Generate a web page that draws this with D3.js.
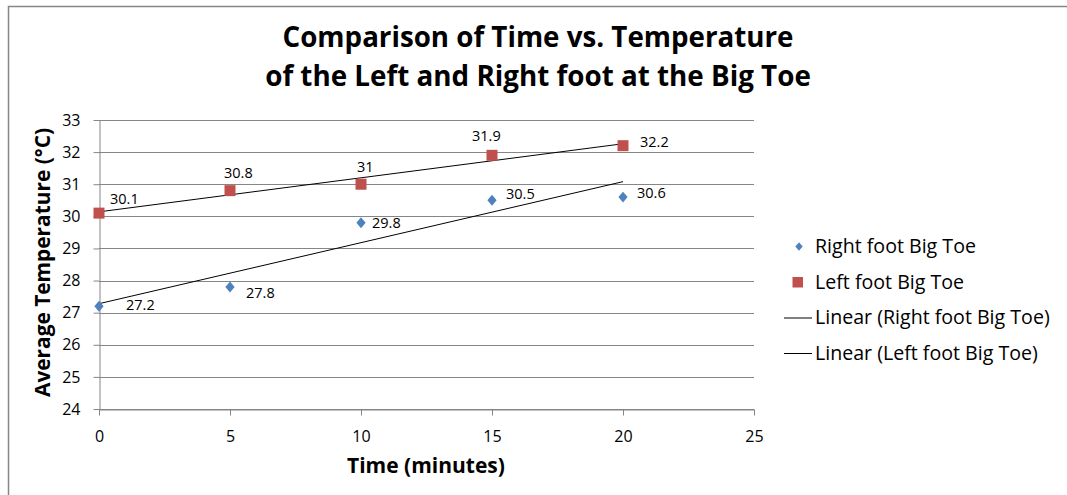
<!DOCTYPE html>
<html>
<head>
<meta charset="utf-8">
<script src="https://cdn.jsdelivr.net/npm/d3@7"></script>
<style>
  body { margin: 0; background: #fff; }
  text { font-family: "Open Sans", Lato, sans-serif; fill: #000; }
</style>
</head>
<body>
<div id="chart"></div>
<script>
// data
var times = [0, 5, 10, 15, 20];
var rightToe = [27.2, 27.8, 29.8, 30.5, 30.6];
var leftToe = [30.1, 30.8, 31, 31.9, 32.2];
var xTicks = [0, 5, 10, 15, 20, 25];
var yTicks = [24, 25, 26, 27, 28, 29, 30, 31, 32, 33];
var titleLines = ["Comparison of Time vs. Temperature", "of the Left and Right foot at the Big Toe"];
var legendItems = ["Right foot Big Toe", "Left foot Big Toe", "Linear (Right foot Big Toe)", "Linear (Left foot Big Toe)"];

// where the data labels were dragged to (px from the marker, text start / middle)
var rightLabelOff = [[27, -1], [16, 6], [11, 0], [14, -6], [14, -4]];
var leftLabelOff = [[11, -14], [-6, -18], [-4, -17], [-20, -19], [17, -4]];

var W = 1067, H = 495;
var margin = {top: 120, left: 99, right: 1067 - 754, bottom: 495 - 409};
var width = W - margin.left - margin.right,
    height = H - margin.top - margin.bottom;

var svg = d3.select("#chart").append("svg")
    .attr("width", W)
    .attr("height", H);

// squeeze/stretch a text's font size until it is as wide as the original
function fitWidth(sel, target) {
  var w = sel.node().getComputedTextLength();
  var fs = parseFloat(sel.style("font-size"));
  sel.style("font-size", (fs * target / w).toFixed(2) + "px");
}

// outer chart frame (only top + left edges show)
svg.append("path")
    .attr("d", "M8.5," + H + "V6.5H" + W)
    .attr("fill", "none")
    .attr("stroke", "#868686")
    .attr("stroke-width", 1.5);

var g = svg.append("g")
    .attr("transform", "translate(" + margin.left + "," + margin.top + ")");

var x = d3.scaleLinear().domain([0, 25]).range([0, width]);
var y = d3.scaleLinear().domain([24, 33]).range([height, 0]);

// gridlines
g.append("g")
    .selectAll("line")
    .data(yTicks)
    .enter().append("line")
    .attr("x1", 0).attr("x2", width)
    .attr("y1", function(d) { return Math.round(y(d)) + 0.5; })
    .attr("y2", function(d) { return Math.round(y(d)) + 0.5; })
    .attr("stroke", "#868686");

var xAxis = d3.axisBottom(x).tickValues(xTicks).tickSize(6).tickSizeOuter(0).tickPadding(15);
var yAxis = d3.axisLeft(y).tickValues(yTicks).tickSize(6).tickSizeOuter(0).tickPadding(13);

var gx = g.append("g")
    .attr("transform", "translate(0," + (Math.round(height) + 0.5) + ")")
    .call(xAxis);
var gy = g.append("g")
    .attr("transform", "translate(0.5,0)")
    .call(yAxis);

[gx, gy].forEach(function(a) {
  a.select(".domain").attr("stroke", "#868686");
  a.selectAll(".tick line").attr("stroke", "#868686");
  a.selectAll(".tick text").style("font-size", "16px").attr("fill", "#000");
});

// axis titles
var xt = svg.append("text")
    .attr("x", 426).attr("y", 473)
    .attr("text-anchor", "middle")
    .style("font-size", "20px").style("font-weight", "bold")
    .text("Time (minutes)");
fitWidth(xt, 158);

var yt = svg.append("text")
    .attr("transform", "translate(50,262.5) rotate(-90)")
    .attr("text-anchor", "middle")
    .style("font-size", "20px").style("font-weight", "bold")
    .text("Average Temperature (°C)");
fitWidth(yt, 269);

// title
var titles = svg.selectAll(".title")
    .data(titleLines)
    .enter().append("text")
    .attr("class", "title")
    .attr("x", 538)
    .attr("y", function(d, i) { return 47 + i * 39; })
    .attr("text-anchor", "middle")
    .style("font-size", "26px").style("font-weight", "bold")
    .text(function(d) { return d; });
titles.each(function(d, i) { fitWidth(d3.select(this), i === 0 ? 511 : 546); });

// least squares trendlines from the data
function linfit(xs, ys) {
  var mx = d3.mean(xs), my = d3.mean(ys);
  var num = d3.sum(xs, function(v, i) { return (v - mx) * (ys[i] - my); });
  var den = d3.sum(xs, function(v) { return (v - mx) * (v - mx); });
  var b = num / den;
  return {b: b, a: my - b * mx};
}

var line = d3.line()
    .x(function(d) { return x(d[0]); })
    .y(function(d) { return y(d[1]); });

[rightToe, leftToe].forEach(function(vals) {
  var f = linfit(times, vals);
  var ends = [times[0], times[times.length - 1]];
  g.append("path")
      .datum(ends.map(function(t) { return [t, f.a + f.b * t]; }))
      .attr("d", line)
      .attr("fill", "none")
      .attr("stroke", "#000")
      .attr("stroke-width", 1);
});

var blue = "#4F81BD", red = "#C0504D";
var diamond = d3.symbol().type(d3.symbolDiamond2).size(75);

// right foot diamonds
g.selectAll(".rpt")
    .data(rightToe)
    .enter().append("path")
    .attr("class", "rpt")
    .attr("d", diamond)
    .attr("transform", function(d, i) { return "translate(" + x(times[i]) + "," + y(d) + ") scale(0.85,1)"; })
    .attr("fill", blue);

// left foot squares
g.selectAll(".lpt")
    .data(leftToe)
    .enter().append("rect")
    .attr("class", "lpt")
    .attr("x", function(d, i) { return x(times[i]) - 5.5; })
    .attr("y", function(d) { return y(d) - 5.5; })
    .attr("width", 11).attr("height", 11)
    .attr("fill", red);

// data labels
g.selectAll(".rlab")
    .data(rightToe)
    .enter().append("text")
    .attr("class", "rlab")
    .attr("x", function(d, i) { return x(times[i]) + rightLabelOff[i][0]; })
    .attr("y", function(d, i) { return y(d) + rightLabelOff[i][1]; })
    .attr("dy", "0.35em")
    .style("font-size", "14.5px")
    .text(function(d) { return d; });

g.selectAll(".llab")
    .data(leftToe)
    .enter().append("text")
    .attr("class", "llab")
    .attr("x", function(d, i) { return x(times[i]) + leftLabelOff[i][0]; })
    .attr("y", function(d, i) { return y(d) + leftLabelOff[i][1]; })
    .attr("dy", "0.35em")
    .style("font-size", "14.5px")
    .text(function(d) { return d; });

// legend
var legend = svg.selectAll(".legend")
    .data(legendItems)
    .enter().append("g")
    .attr("class", "legend")
    .attr("transform", function(d, i) { return "translate(0," + (246.5 + i * 35.5) + ")"; });

legend.each(function(d, i) {
  var lg = d3.select(this);
  if (i === 0) {
    lg.append("path").attr("d", d3.symbol().type(d3.symbolDiamond2).size(48))
        .attr("transform", "translate(799,0) scale(0.85,1)").attr("fill", blue);
  } else if (i === 1) {
    lg.append("rect").attr("x", 792.5).attr("y", -5).attr("width", 10.5).attr("height", 10.5).attr("fill", red);
  } else {
    lg.append("line").attr("x1", 784).attr("x2", 812).attr("y1", 0.5).attr("y2", 0.5)
        .attr("stroke", "#000");
  }
});

var ltext = legend.append("text")
    .attr("x", 815)
    .attr("dy", "0.35em")
    .style("font-size", "17px")
    .text(function(d) { return d; });
// all four share one size; fit it on the first entry
fitWidth(d3.select(ltext.nodes()[0]), 161);
ltext.style("font-size", d3.select(ltext.nodes()[0]).style("font-size"));
</script>
</body>
</html>
